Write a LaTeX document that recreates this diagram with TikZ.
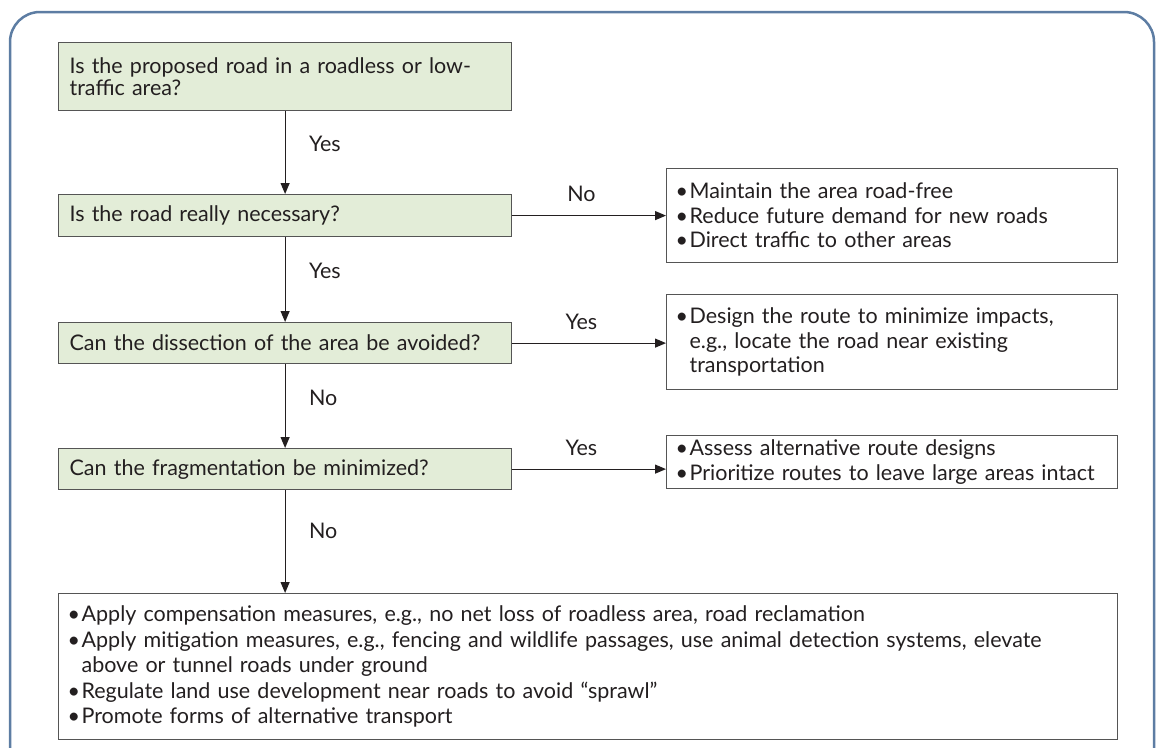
\documentclass[tikz,border=0pt]{standalone}
\usepackage{fontspec}
\setmainfont{Lato}
\usetikzlibrary{arrows.meta,positioning}

\definecolor{qgreen}{HTML}{E3EDD8}
\definecolor{frameblue}{HTML}{5D7DA3}
\definecolor{boxgray}{HTML}{555555}
\definecolor{inkdark}{HTML}{231F20}

\newcommand{\bul}{\makebox[14pt][l]{\textbullet}}
\newcommand{\cont}{\hspace*{14pt}}

\tikzset{
  ques/.style={rectangle, fill=qgreen, draw=boxgray, line width=1.2pt, anchor=north west,
    align=left, text width=431pt, inner xsep=11pt, inner ysep=0pt, text=inkdark,
    font=\fontsize{21.5}{22}\selectfont},
  answer/.style={rectangle, fill=white, draw=boxgray, line width=1.2pt, anchor=north west,
    align=left, inner xsep=9pt, inner ysep=0pt, text=inkdark,
    font=\fontsize{21.5}{24.5}\selectfont},
  flow/.style={draw=inkdark, line width=1.2pt, -{Triangle[length=11pt,width=9pt]}},
  vlbl/.style={anchor=west, xshift=20pt, pos=0.4, text=inkdark, font=\fontsize{21.5}{24}\selectfont},
  hlbl/.style={above=10pt, pos=0.45, text=inkdark, font=\fontsize{21.5}{24}\selectfont}
}

\begin{document}
\begin{tikzpicture}[x=1pt, y=-1pt]
\useasboundingbox (0,0) rectangle (1158,747);
\begin{scope}
\clip (0,0) rectangle (1158,747);
\draw[frameblue, line width=2.5pt, rounded corners=30pt] (10,12) rectangle (1154,790);
\end{scope}

% questions
\node[ques, minimum height=68pt] (q1) at (58,42) {Is the proposed road in a roadless or low-\\traffic area?};
\node[ques, minimum height=42pt] (q2) at (58,194) {Is the road really necessary?};
\node[ques, minimum height=41pt] (q3) at (58,322) {Can the dissection of the area be avoided?};
\node[ques, minimum height=41pt] (q4) at (58,448) {Can the fragmentation be minimized?};

% outcomes
\node[answer, text width=433pt, minimum height=94pt] (r1) at (666,168) {\bul Maintain the area road-free\\
\bul Reduce future demand for new roads\\
\bul Direct traffic to other areas};
\node[answer, text width=433pt, minimum height=95pt] (r2) at (666,294) {\bul Design the route to minimize impacts,\\
\cont e.g., locate the road near existing\\
\cont transportation};
\node[answer, text width=433pt, minimum height=53pt] (r3) at (666,435) {\bul Assess alternative route designs\\
\bul Prioritize routes to leave large areas intact};
\node[answer, text width=1041pt, minimum height=146pt, font=\fontsize{21.5}{25.5}\selectfont] (fin) at (58,593) {\bul Apply compensation measures, e.g., no net loss of roadless area, road reclamation\\
\bul Apply mitigation measures, e.g., fencing and wildlife passages, use animal detection systems, elevate\\
\cont above or tunnel roads under ground\\
\bul Regulate land use development near roads to avoid “sprawl”\\
\bul Promote forms of alternative transport};

% connectors
\draw[flow] (q1.south) -- node[vlbl] {Yes} (q2.north);
\draw[flow] (q2.south) -- node[vlbl] {Yes} (q3.north);
\draw[flow] (q3.south) -- node[vlbl] {No} (q4.north);
\draw[flow] (q4.south) -- node[vlbl] {No} (q4.south |- fin.north);
\draw[flow] (q2.east) -- node[hlbl] {No} (q2.east -| r1.west);
\draw[flow] (q3.east) -- node[hlbl] {Yes} (q3.east -| r2.west);
\draw[flow] (q4.east) -- node[hlbl] {Yes} (q4.east -| r3.west);
\end{tikzpicture}
\end{document}
